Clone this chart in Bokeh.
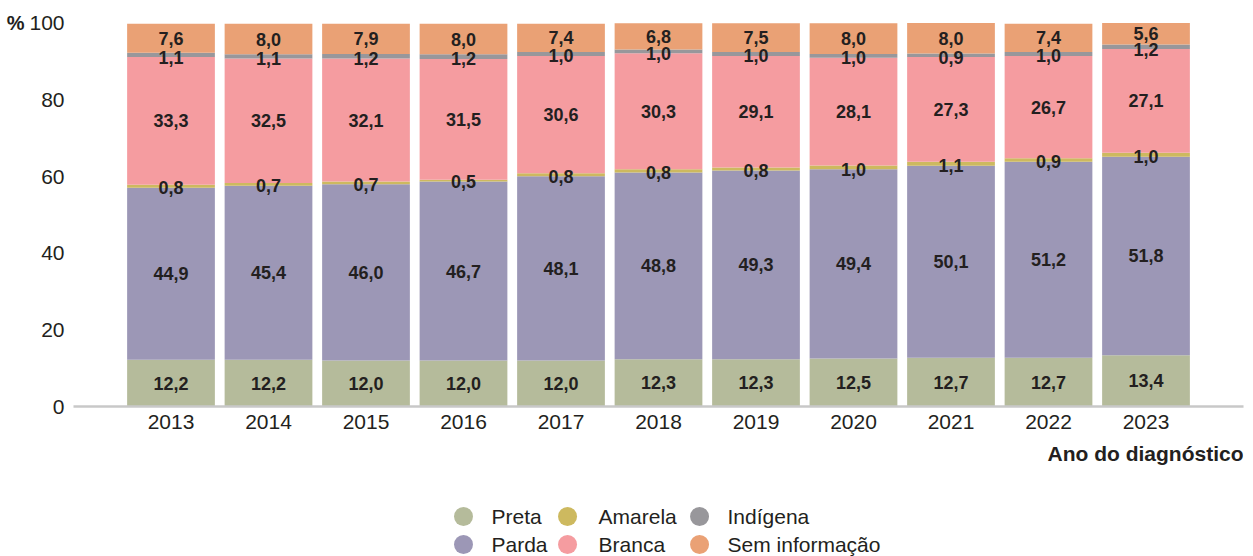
from bokeh.plotting import figure
from bokeh.models import ColumnDataSource, Range1d, FixedTicker, LinearAxis
from bokeh.layouts import column
from bokeh.embed import file_html
from bokeh.resources import INLINE
from bokeh.core.properties import value

years = ["2013", "2014", "2015", "2016", "2017", "2018", "2019", "2020", "2021", "2022", "2023"]
preta = [12.2, 12.2, 12.0, 12.0, 12.0, 12.3, 12.3, 12.5, 12.7, 12.7, 13.4]
parda = [44.9, 45.4, 46.0, 46.7, 48.1, 48.8, 49.3, 49.4, 50.1, 51.2, 51.8]
amarela = [0.8, 0.7, 0.7, 0.5, 0.8, 0.8, 0.8, 1.0, 1.1, 0.9, 1.0]
branca = [33.3, 32.5, 32.1, 31.5, 30.6, 30.3, 29.1, 28.1, 27.3, 26.7, 27.1]
indigena = [1.1, 1.1, 1.2, 1.2, 1.0, 1.0, 1.0, 1.0, 0.9, 1.0, 1.2]
sem_info = [7.6, 8.0, 7.9, 8.0, 7.4, 6.8, 7.5, 8.0, 8.0, 7.4, 5.6]

series_names = ["Preta", "Parda", "Amarela", "Branca", "Indígena", "Sem informação"]
series_keys = ["preta", "parda", "amarela", "branca", "indigena", "sem_info"]
series_vals = [preta, parda, amarela, branca, indigena, sem_info]
colors = ["#b5bb9b", "#9c97b6", "#cdb95f", "#f59ca0", "#98979b", "#eaa175"]
label_at_bottom = [False, False, True, False, True, False]
y_ticks = [0, 20, 40, 60, 80, 100]
x_title = "Ano do diagnóstico"
y_unit = "%"

FONT = "Liberation Sans"
TXT = "#231f20"

xs = list(range(len(years)))
data = {"x": xs}
for k, v in zip(series_keys, series_vals):
    data[k] = v
source = ColumnDataSource(data)

xr = Range1d(-1, 11)
p = figure(frame_width=1170, frame_height=387, x_range=xr, y_range=Range1d(0, 101),
           output_backend="svg", toolbar_location=None,
           min_border_left=73, min_border_right=10, min_border_top=19, min_border_bottom=34)
p.outline_line_color = None
p.xgrid.visible = False
p.ygrid.visible = False

p.vbar_stack(series_keys, x="x", width=0.9, color=colors, line_color=None, source=source)

# value labels
lx, ly, lt = [], [], []
bottoms = [0.0] * len(years)
for vals, at_bottom in zip(series_vals, label_at_bottom):
    for i, v in enumerate(vals):
        lx.append(xs[i])
        ly.append(bottoms[i] if at_bottom else bottoms[i] + v / 2)
        lt.append(f"{v:.1f}".replace(".", ","))
        bottoms[i] += v
p.text(x=lx, y=ly, text=lt, text_align="center", text_baseline="middle",
       text_font=value(FONT), text_font_style="bold", text_font_size="18px", text_color=TXT)

# axes
yax = p.yaxis[0]
yax.ticker = FixedTicker(ticks=y_ticks)
yax.axis_line_color = None
yax.major_tick_line_color = None
yax.minor_tick_line_color = None
yax.major_label_text_font = FONT
yax.major_label_text_font_size = "21px"
yax.major_label_text_color = TXT
yax.major_label_standoff = 3

unit_ax = LinearAxis(ticker=FixedTicker(ticks=[y_ticks[-1]]),
                     major_label_overrides={y_ticks[-1]: y_unit})
unit_ax.axis_line_color = None
unit_ax.major_tick_line_color = None
unit_ax.minor_tick_line_color = None
unit_ax.major_label_text_font = FONT
unit_ax.major_label_text_font_style = "bold"
unit_ax.major_label_text_font_size = "20px"
unit_ax.major_label_text_color = TXT
unit_ax.major_label_standoff = -4
p.add_layout(unit_ax, "left")

xax = p.xaxis[0]
xax.ticker = FixedTicker(ticks=xs)
xax.major_label_overrides = {i: y for i, y in zip(xs, years)}
xax.axis_line_color = "#c8c8c8"
xax.axis_line_width = 2.5
xax.major_tick_line_color = None
xax.minor_tick_line_color = None
xax.major_label_text_font = FONT
xax.major_label_text_font_size = "21px"
xax.major_label_text_color = TXT
xax.major_label_standoff = 2

# bottom figure: axis title + legend (shares the x scale of the chart)
LH = 116
lg = figure(frame_width=1170, frame_height=LH, x_range=xr, y_range=Range1d(LH, 0),
            output_backend="svg", toolbar_location=None,
            min_border_left=73, min_border_right=10, min_border_top=0, min_border_bottom=0)
lg.axis.visible = False
lg.grid.visible = False
lg.outline_line_color = None

lg.text(x=[xr.end], y=[13], text=[x_title], text_align="right", text_baseline="middle",
        text_font=value(FONT), text_font_style="bold", text_font_size="21px", text_color=TXT)

circle_x = [3.0, 4.067, 5.421]
text_x = [3.287, 4.385, 5.708]
row_y = [76, 104]
cx, cy, tx = [], [], []
for idx in range(len(series_names)):
    c, r = idx // 2, idx % 2
    cx.append(circle_x[c])
    tx.append(text_x[c])
    cy.append(row_y[r])
lg.scatter(x=cx, y=cy, size=19, marker="circle", color=colors, line_color=None)
lg.text(x=tx, y=cy, text=series_names, text_align="left", text_baseline="middle",
        text_font=value(FONT), text_font_size="21px", text_color=TXT)

layout = column(p, lg, spacing=0)
open("out.html", "w").write(file_html(layout, INLINE))
